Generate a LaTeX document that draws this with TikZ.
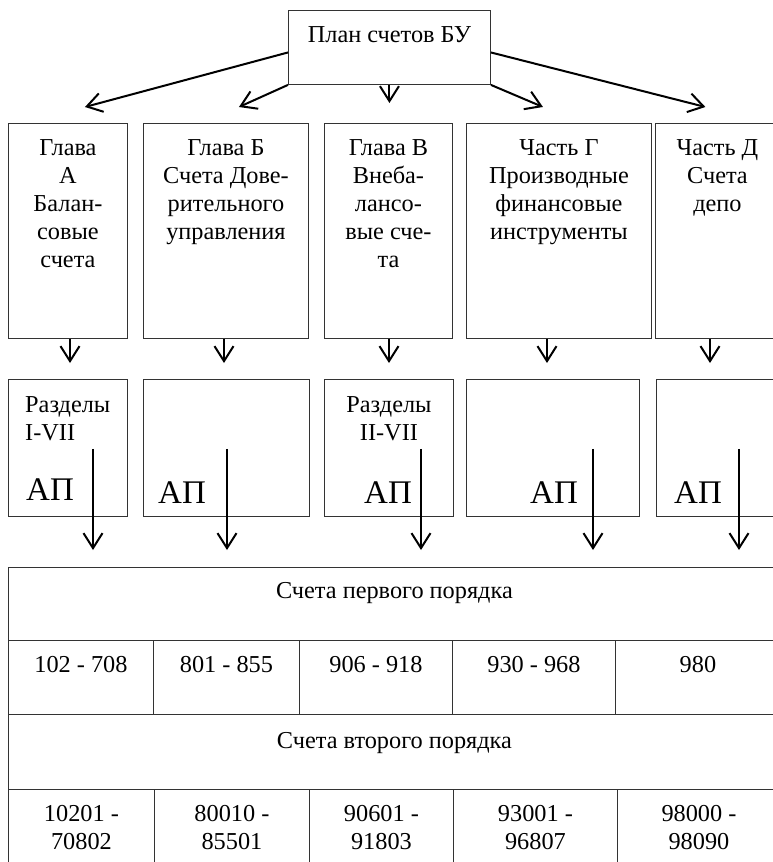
\documentclass[tikz,border=0pt]{standalone}
\usepackage{fontspec}
\setmainfont{Liberation Serif}
\usetikzlibrary{arrows.meta}
\newcommand\txtsz{\fontsize{24.3pt}{28pt}\selectfont}
\newcommand\apsz{\fontsize{33pt}{36pt}\selectfont}

\begin{document}
\begin{tikzpicture}[x=1pt,y=-1pt,
  box/.style={draw=black!80,line width=0.9pt,inner sep=0pt,anchor=north west},
  txt/.style={font=\txtsz,inner sep=0pt,align=center,anchor=base},
  apl/.style={font=\apsz,inner sep=0pt,anchor=base west},
  arr/.style={-{Straight Barb[length=15pt,width=19pt]},line width=2pt}]
   \clip (0,0) rectangle (773,862);
   % plan
   \node[box,minimum width=202pt,minimum height=74pt] (plan) at (288,10) {};
   \node[txt] (tplan) at ([yshift=-32pt]plan.north) {План счетов БУ};
   % chapters
   \foreach \n/\a/\w in {A/8/119,B/143/165,C/324/128,D/466/185,E/655/124}
    \node[box,minimum width=\w pt,minimum height=215pt] (gl\n) at (\a,123) {};
   \node[txt,anchor=north] (tglA) at ([yshift=-16pt]glA.north) {Глава\\А\\Балан-\\совые\\счета};
   \node[txt,anchor=north] (tglB) at ([yshift=-16pt]glB.north) {Глава Б\\Счета Дове-\\рительного\\управления};
   \node[txt,anchor=north] (tglC) at ([yshift=-16pt]glC.north) {Глава В\\Внеба-\\лансо-\\вые сче-\\та};
   \node[txt,anchor=north] (tglD) at ([yshift=-16pt]glD.north) {Часть Г\\Производные\\финансовые\\инструменты};
   \node[txt,anchor=north] (tglE) at ([yshift=-16pt]glE.north) {Часть Д\\Счета\\депо};
   % sections
   \foreach \n/\a/\w in {A/8/119,B/143/166,C/324/129,D/466/173,E/656/124}
    \node[box,minimum width=\w pt,minimum height=137pt] (raz\n) at (\a,379) {};
   \node[txt,align=left,anchor=north west] (traA) at ([xshift=17pt,yshift=-17pt]razA.north west) {Разделы\\I-VII};
   \node[txt,anchor=north] (traC) at ([yshift=-17pt]razC.north) {Разделы\\II-VII};
   \node[apl] (apA) at ([xshift=18pt,yshift=16pt]razA.south west) {АП};
   \node[apl] (apB) at ([xshift=15pt,yshift=13pt]razB.south west) {АП};
   \node[apl] (apC) at ([xshift=40pt,yshift=13pt]razC.south west) {АП};
   \node[apl] (apD) at ([xshift=64pt,yshift=13pt]razD.south west) {АП};
   \node[apl] (apE) at ([xshift=18pt,yshift=13pt]razE.south west) {АП};
   % table
   \node[box,minimum width=772pt,minimum height=73pt] (perv) at (8,567) {};
   \node[txt] (tperv) at ([yshift=-31pt]perv.north) {Счета первого порядка};
   \foreach \n/\a/\b/\t in {1/8/153/{102 - 708},2/153/299/{801 - 855},3/299/452/{906 - 918},
     4/452/615/{930 - 968},5/615/780/980} {
    \node[box,minimum width=\b pt-\a pt,minimum height=74pt] (c\n) at (\a,640) {};
    \node[txt] (tc\n) at ([yshift=-32pt]c\n.north) {\t};
   }
   \node[box,minimum width=772pt,minimum height=75pt] (vtor) at (8,714) {};
   \node[txt] (tvtor) at ([yshift=-34pt]vtor.north) {Счета второго порядка};
   \foreach \n/\a/\b/\t in {1/8/154/{10201 -\\70802},2/154/309/{80010 -\\85501},
     3/309/453/{90601 -\\91803},4/453/617/{93001 -\\96807},5/617/780/{98000 -\\98090}} {
    \node[box,minimum width=\b pt-\a pt,minimum height=80pt] (d\n) at (\a,789) {};
    \node[txt,anchor=north] (td\n) at ([yshift=-16pt]d\n.north) {\t};
   }
   % arrows
   \draw[arr] ([yshift=-5pt]plan.west) -- ([xshift=17pt,yshift=16pt]glA.north);
   \draw[arr] (plan.south west) -- ([xshift=13pt,yshift=16pt]glB.north);
   \draw[arr] (plan.south) -- ([xshift=1pt,yshift=20pt]glC.north);
   \draw[arr] (plan.south east) -- ([xshift=-16pt,yshift=16pt]glD.north);
   \draw[arr] ([yshift=-5pt]plan.east) -- ([xshift=-12pt,yshift=16pt]glE.north);
   \foreach \n/\x in {A/70,B/224,C/389,D/547,E/710}
    \draw[arr] (\x,0 |- gl\n.south) -- ([yshift=16pt]\x,0 |- raz\n.north);
   \foreach \n/\x in {A/93,B/227,C/421,D/593,E/739}
    \draw[arr] ([yshift=68pt]\x,0 |- raz\n.south) -- ([yshift=17pt]\x,0 |- perv.north);
\end{tikzpicture}
\end{document}
